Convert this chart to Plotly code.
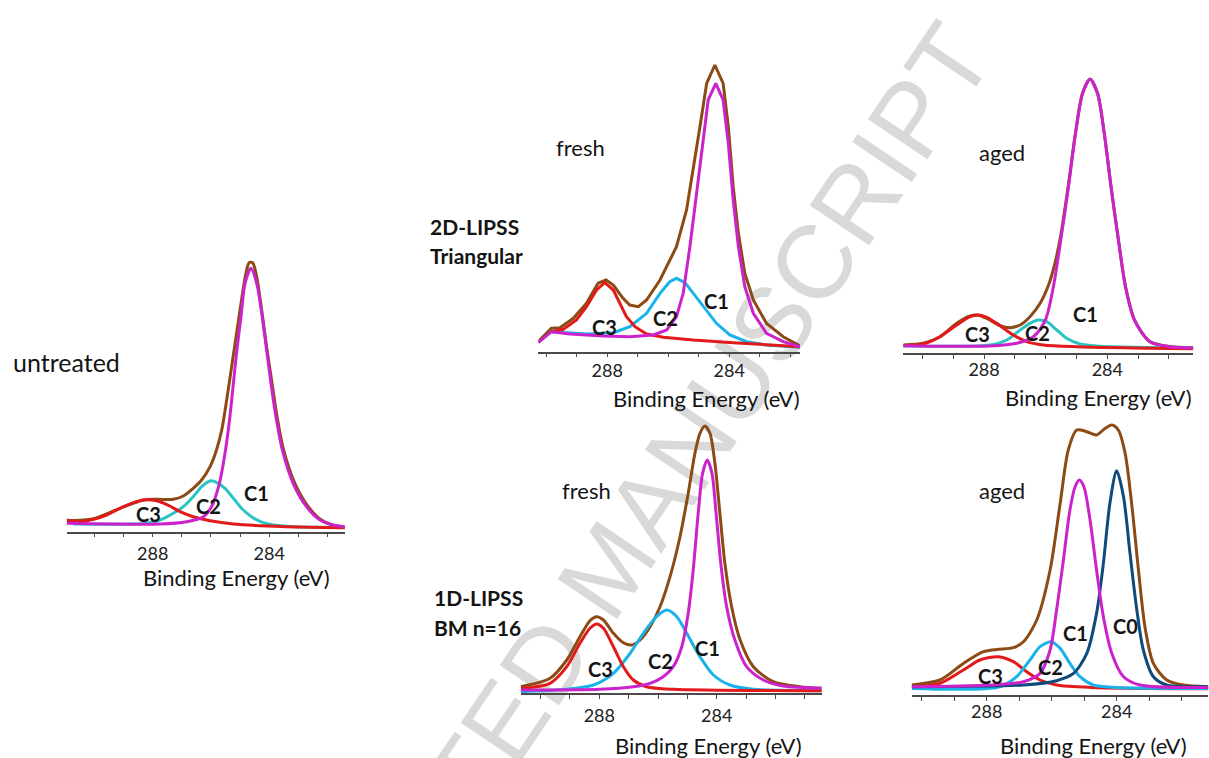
import plotly.graph_objects as go

W, H = 1209, 758

# ---------------- data: binding energy (eV) and intensity (arb. units) ----------------
TICK_VALS = [280, 281, 282, 283, 284, 285, 286, 287, 288, 289, 290, 291]
TICK_TEXT = ["", "", "", "", "284", "", "", "", "288", "", "", ""]

# --- untreated ---
UNT_ENV_E = [290.95, 290.03, 289.12, 288.32, 287.86, 287.29, 286.95, 286.61, 286.32, 286.03, 285.81, 285.63,
             285.46, 285.29, 285.12, 284.95, 284.80, 284.69, 284.57, 284.43, 284.26, 284.09, 283.92, 283.75,
             283.52, 283.12, 282.66, 282.21, 281.69, 281.41]
UNT_ENV_I = [11.0, 13.0, 23.4, 31.7, 32.4, 32.4, 35.7, 43.4, 51.7, 65.0, 81.7, 101.7,
             131.7, 165.0, 198.4, 231.7, 258.4, 269.0, 269.0, 255.0, 221.7, 185.0, 151.7, 118.4,
             83.4, 48.4, 25.0, 11.7, 5.7, 4.4]
UNT_C1_E = [290.95, 287.75, 286.83, 286.26, 285.98, 285.71, 285.50, 285.35, 285.23, 285.11, 284.97, 284.83,
            284.63, 284.43, 284.24, 284.09, 283.94, 283.77, 283.55, 283.18, 282.72, 282.26, 281.81, 281.41]
UNT_C1_I = [8.4, 7.7, 10.0, 15.0, 25.0, 48.4, 81.7, 115.0, 148.4, 181.7, 215.0, 248.4,
            263.4, 248.4, 215.0, 181.7, 148.4, 115.0, 81.7, 48.4, 25.0, 11.7, 6.7, 5.0]
UNT_C2_E = [290.72, 288.21, 287.75, 287.29, 286.95, 286.61, 286.32, 286.09, 285.98, 285.81, 285.52, 285.23,
            284.95, 284.61, 284.21, 283.75, 283.18, 281.41]
UNT_C2_I = [7.7, 8.4, 11.7, 18.4, 25.0, 35.0, 45.0, 50.0, 51.0, 49.4, 43.4, 33.4,
            23.4, 15.0, 9.0, 6.4, 5.0, 4.4]
UNT_C3_E = [290.95, 290.49, 290.03, 289.58, 289.12, 288.66, 288.32, 288.03, 287.75, 287.41, 287.06, 286.61,
            286.03, 285.23, 284.09, 282.61, 281.41]
UNT_C3_I = [11.7, 10.0, 12.4, 16.7, 23.4, 29.0, 31.7, 31.7, 30.0, 25.7, 20.0, 15.0,
            11.0, 7.7, 5.7, 4.4, 4.0]

# --- 2D-LIPSS triangular, fresh ---
TF_ENV_E = [290.26, 289.83, 289.55, 289.11, 288.68, 288.30, 288.04, 287.80, 287.48, 287.26, 286.98, 286.71,
            286.27, 285.73, 285.40, 285.18, 284.96, 284.74, 284.47, 284.20, 284.03, 283.87, 283.70, 283.49,
            283.21, 282.78, 282.23, 281.68]
TF_ENV_I = [10.0, 23.4, 24.0, 33.4, 48.4, 68.4, 71.7, 66.7, 53.4, 46.7, 45.0, 51.7,
            71.7, 105.0, 141.7, 181.7, 225.0, 268.4, 286.7, 268.4, 225.0, 165.0, 118.4, 78.4,
            51.7, 28.4, 15.0, 5.7]
TF_C1_E = [290.26, 289.83, 289.22, 288.13, 287.26, 286.49, 286.05, 285.73, 285.51, 285.29, 285.07, 284.85,
           284.69, 284.44, 284.20, 284.03, 283.87, 283.70, 283.49, 283.21, 282.78, 282.23, 281.68]
TF_C1_I = [9.0, 20.0, 17.7, 15.7, 15.0, 16.7, 21.7, 35.0, 58.4, 105.0, 158.4, 215.0,
           251.7, 268.4, 251.7, 208.4, 151.7, 105.0, 65.0, 38.4, 18.4, 10.0, 5.0]
TF_C2_E = [289.83, 288.68, 287.80, 287.26, 286.71, 286.27, 285.95, 285.73, 285.45, 285.18, 284.85, 284.42,
           283.98, 283.43, 282.78, 281.68]
TF_C2_I = [20.0, 17.7, 19.0, 25.0, 38.4, 58.4, 70.0, 73.4, 69.0, 58.4, 45.0, 28.4,
           16.7, 10.0, 6.7, 4.4]
TF_C3_E = [289.83, 289.44, 289.01, 288.68, 288.35, 288.08, 287.80, 287.58, 287.37, 287.09, 286.71, 286.16,
           285.18, 283.87, 281.68]
TF_C3_I = [20.0, 22.4, 31.7, 45.0, 61.7, 69.0, 61.7, 48.4, 35.0, 25.0, 17.7, 14.4,
           11.7, 9.0, 5.0]

# --- 2D-LIPSS triangular, aged ---
TA_ENV_E = [290.62, 289.97, 289.43, 288.89, 288.45, 288.22, 287.91, 287.48, 287.16, 286.83, 286.51, 286.18,
            285.91, 285.70, 285.51, 285.26, 285.03, 284.80, 284.56, 284.32, 284.10, 283.88, 283.64, 283.41,
            283.12, 282.62, 281.97, 281.21]
TA_ENV_I = [8.3, 10.0, 16.6, 30.0, 37.3, 38.3, 35.0, 27.6, 25.6, 28.3, 36.6, 50.0,
            68.0, 90.0, 118.0, 169.0, 221.0, 260.5, 274.2, 260.2, 220.2, 166.8, 113.5, 66.8,
            33.5, 11.8, 6.8, 5.5]
TA_C1_E = [290.62, 287.81, 286.94, 286.40, 286.01, 285.75, 285.51, 285.26, 285.03, 284.80, 284.56, 284.32,
           284.10, 283.88, 283.64, 283.41, 283.12, 282.62, 281.97, 281.21]
TA_C1_I = [7.6, 7.3, 10.0, 16.6, 33.3, 66.6, 113.3, 166.6, 220.0, 260.0, 274.0, 260.0,
           220.0, 166.6, 113.3, 66.6, 33.3, 11.6, 6.6, 5.3]
TA_C2_E = [290.62, 287.81, 287.26, 286.83, 286.51, 286.24, 285.97, 285.64, 285.32, 284.89, 284.35, 281.21]
TA_C2_I = [7.6, 8.3, 13.3, 23.3, 30.0, 33.3, 31.6, 23.3, 15.0, 9.3, 7.3, 5.3]
TA_C3_E = [290.62, 289.97, 289.43, 288.89, 288.45, 288.22, 287.91, 287.48, 287.05, 286.62, 286.08, 284.99, 281.21]
TA_C3_I = [7.6, 9.3, 16.6, 28.3, 36.6, 38.3, 36.0, 27.6, 18.3, 11.6, 8.3, 6.6, 4.6]

# --- 1D-LIPSS BM n=16, fresh ---
LF_ENV_E = [290.68, 289.68, 289.11, 288.66, 288.32, 288.09, 287.86, 287.52, 287.18, 286.90, 286.61, 286.27,
            285.93, 285.59, 285.25, 284.97, 284.74, 284.57, 284.40, 284.23, 284.06, 283.89, 283.72, 283.49,
            283.20, 282.75, 282.07, 281.16, 280.42]
LF_ENV_I = [6.6, 15.0, 33.3, 56.6, 72.6, 76.6, 73.3, 60.0, 50.6, 48.3, 53.3, 66.6,
            86.6, 116.6, 156.6, 200.0, 240.0, 260.0, 267.3, 260.0, 230.0, 180.0, 130.0, 86.6,
            53.3, 26.6, 11.6, 6.6, 5.0]
LF_C1_E = [290.68, 287.98, 286.84, 286.27, 285.82, 285.48, 285.19, 284.97, 284.80, 284.63, 284.48, 284.32,
           284.16, 284.02, 283.86, 283.66, 283.38, 282.98, 282.41, 281.73, 280.42]
LF_C1_I = [3.3, 4.0, 6.6, 10.0, 16.6, 26.6, 46.6, 80.0, 123.3, 180.0, 220.0, 233.3,
           220.0, 180.0, 130.0, 86.6, 53.3, 26.6, 13.3, 7.3, 5.0]
LF_C2_E = [290.68, 289.11, 288.20, 287.52, 286.95, 286.50, 286.05, 285.70, 285.36, 285.02, 284.57, 284.11,
           283.55, 282.75, 280.42]
LF_C2_I = [1.6, 4.0, 8.3, 20.0, 40.0, 60.0, 76.6, 83.3, 76.6, 60.0, 36.6, 18.3,
           8.3, 4.0, 2.6]
LF_C3_E = [290.68, 289.68, 289.11, 288.66, 288.32, 288.09, 287.86, 287.52, 287.18, 286.84, 286.39, 285.48, 280.42]
LF_C3_I = [5.0, 10.0, 26.6, 50.0, 65.0, 69.3, 65.0, 46.6, 26.6, 13.3, 6.6, 4.0, 2.6]

# --- 1D-LIPSS BM n=16, aged ---
LA_ENV_E = [290.31, 289.44, 288.72, 288.10, 287.69, 287.18, 286.87, 286.46, 286.05, 285.74, 285.49, 285.23,
            284.92, 284.62, 284.36, 284.15, 283.95, 283.74, 283.54, 283.33, 283.13, 282.87, 282.46, 281.95, 281.18]
LA_ENV_I = [10.0, 15.0, 31.6, 43.3, 45.6, 47.3, 53.3, 75.0, 125.0, 191.6, 245.0, 265.0,
            263.3, 260.0, 266.6, 270.0, 265.0, 241.6, 191.6, 125.0, 68.3, 31.6, 15.0, 10.0, 8.3]
LA_C0_E = [290.31, 286.87, 285.85, 285.33, 284.92, 284.62, 284.41, 284.21, 284.00, 283.79, 283.59, 283.38,
           283.18, 282.87, 282.46, 281.18]
LA_C0_I = [8.3, 10.0, 14.3, 21.6, 41.6, 81.6, 131.6, 191.6, 224.3, 198.3, 141.6, 85.0,
           45.0, 18.3, 10.0, 8.3]
LA_C1_E = [290.31, 287.90, 286.87, 286.36, 286.05, 285.85, 285.64, 285.44, 285.28, 285.15, 285.01, 284.82,
           284.62, 284.41, 284.15, 283.79, 283.28, 281.18]
LA_C1_I = [8.3, 10.0, 13.3, 21.6, 45.0, 85.0, 135.0, 185.0, 208.3, 215.0, 208.3, 175.0,
           125.0, 78.3, 41.6, 18.3, 10.0, 7.6]
LA_C2_E = [290.31, 287.59, 287.08, 286.67, 286.36, 286.02, 285.74, 285.44, 285.13, 284.72, 284.00, 281.18]
LA_C2_I = [6.6, 8.3, 18.3, 35.0, 48.3, 53.3, 46.6, 31.6, 18.3, 10.0, 7.6, 6.6]
LA_C3_E = [290.31, 289.44, 288.72, 288.21, 287.64, 287.18, 286.77, 286.36, 285.85, 284.82, 281.18]
LA_C3_I = [8.3, 11.6, 25.0, 35.0, 38.3, 33.3, 23.3, 15.0, 10.0, 7.6, 6.3]

# ---------------- styling ----------------
BROWN = "#8c4a14"
MAGENTA = "#cc22cc"
SKY = "#1ab2ea"
TURQ = "#2bc4c4"
RED = "#e31a1a"
NAVY = "#0e4a7b"
FONT = "Lato"

# panel geometry in pixels: x-left, x-right, axis y, top y, x-range (reversed), tick-label standoff
PANELS = [
    dict(x0=66.7, x1=345.0, yb=531.7, yt=250.0, rng=[290.95, 281.40], so=1),
    dict(x0=538.3, x1=800.0, yb=351.7, yt=60.0, rng=[290.26, 281.68], so=-2),
    dict(x0=903.3, x1=1193.3, yb=353.3, yt=60.0, rng=[290.62, 281.21], so=-5),
    dict(x0=520.7, x1=821.7, yb=693.3, yt=420.0, rng=[290.68, 280.42], so=1),
    dict(x0=911.7, x1=1208.3, yb=695.0, yt=420.0, rng=[290.31, 281.18], so=-4),
]

CURVES = [
    [(UNT_ENV_E, UNT_ENV_I, BROWN), (UNT_C2_E, UNT_C2_I, TURQ), (UNT_C3_E, UNT_C3_I, RED),
     (UNT_C1_E, UNT_C1_I, MAGENTA)],
    [(TF_ENV_E, TF_ENV_I, BROWN), (TF_C2_E, TF_C2_I, SKY), (TF_C3_E, TF_C3_I, RED),
     (TF_C1_E, TF_C1_I, MAGENTA)],
    [(TA_ENV_E, TA_ENV_I, BROWN), (TA_C2_E, TA_C2_I, TURQ), (TA_C3_E, TA_C3_I, RED),
     (TA_C1_E, TA_C1_I, MAGENTA)],
    [(LF_ENV_E, LF_ENV_I, BROWN), (LF_C2_E, LF_C2_I, SKY), (LF_C3_E, LF_C3_I, RED),
     (LF_C1_E, LF_C1_I, MAGENTA)],
    [(LA_ENV_E, LA_ENV_I, BROWN), (LA_C3_E, LA_C3_I, RED), (LA_C2_E, LA_C2_I, SKY),
     (LA_C0_E, LA_C0_I, NAVY), (LA_C1_E, LA_C1_I, MAGENTA)],
]
SHAPES = ["spline", "linear", "spline", "spline", "spline"]

fig = go.Figure()

for k, (panel, curves) in enumerate(zip(PANELS, CURVES), start=1):
    xa = "x" if k == 1 else f"x{k}"
    ya = "y" if k == 1 else f"y{k}"
    for e, i, col in curves:
        fig.add_trace(go.Scatter(x=e, y=i, mode="lines", xaxis=xa, yaxis=ya,
                                 line=dict(color=col, width=3, shape=SHAPES[k - 1], smoothing=0.8),
                                 showlegend=False, hoverinfo="skip"))
    xkey = "xaxis" if k == 1 else f"xaxis{k}"
    ykey = "yaxis" if k == 1 else f"yaxis{k}"
    fig.layout[xkey] = dict(
        domain=[panel["x0"] / W, panel["x1"] / W], anchor=ya, range=panel["rng"],
        showline=True, linecolor="#4a4a4a", linewidth=1.5, mirror=False,
        ticks="outside", ticklen=4, tickwidth=1, tickcolor="#4a4a4a",
        tickmode="array", tickvals=TICK_VALS, ticktext=TICK_TEXT,
        tickfont=dict(family=FONT, size=18, color="#222222"), ticklabelstandoff=panel["so"],
        showgrid=False, zeroline=False, fixedrange=True,
    )
    fig.layout[ykey] = dict(
        domain=[1 - panel["yb"] / H, 1 - panel["yt"] / H], anchor=xa,
        range=[0, panel["yb"] - panel["yt"]], visible=False, fixedrange=True,
    )


def ann(text, px, py, size, bold=False, xanchor="center"):
    fig.add_annotation(x=px / W, y=1 - py / H, xref="paper", yref="paper",
                       text=f"<b>{text}</b>" if bold else text, showarrow=False,
                       xanchor=xanchor, yanchor="middle",
                       font=dict(family=FONT, size=size, color="#141414"))


# sample / condition labels
ann("untreated", 66, 362, 25)
ann("fresh", 580, 147.5, 22)
ann("aged", 1002, 152.5, 22)
ann("fresh", 586, 490.8, 22)
ann("aged", 1002, 490.8, 22)
ann("2D-LIPSS", 428, 226.7, 21, bold=True, xanchor="left")
ann("Triangular", 428, 255.5, 21, bold=True, xanchor="left")
ann("1D-LIPSS", 432, 597, 21, bold=True, xanchor="left")
ann("BM n=16", 432, 627, 21, bold=True, xanchor="left")

# axis titles
for px, py in [(236.3, 577), (706, 398), (1098, 397), (708, 745), (1093, 745)]:
    ann("Binding Energy (eV)", px, py, 22)

# component labels
PEAK_LABELS = [
    ("C3", 148, 513.7), ("C2", 208.3, 505.8), ("C1", 256.2, 492.5),
    ("C3", 605, 326.7), ("C2", 665, 318.3), ("C1", 716.7, 300.8),
    ("C3", 977, 334), ("C2", 1037.7, 332.5), ("C1", 1085, 313.7),
    ("C3", 600, 669), ("C2", 660, 660.8), ("C1", 707, 647.5),
    ("C3", 990, 675.8), ("C2", 1050, 667), ("C1", 1075, 632.5), ("C0", 1125, 625.8),
]
for t, px, py in PEAK_LABELS:
    ann(t, px, py, 20, bold=True)

# watermark, drawn beneath the spectra
cx, cy = 600 / W, 1 - 562 / H
fig.add_shape(type="rect", xref="paper", yref="paper", x0=cx - 0.001, x1=cx + 0.001,
              y0=cy - 0.001, y1=cy + 0.001, layer="below",
              line=dict(width=0, color="rgba(0,0,0,0)"), fillcolor="rgba(0,0,0,0)",
              label=dict(text="ACCEPTED MANUSCRIPT", textangle=-56, textposition="middle center",
                         font=dict(family="Liberation Sans", size=104, color="#d9d9d9")))

fig.update_layout(width=W, height=H, margin=dict(l=0, r=0, t=0, b=0),
                  paper_bgcolor="white", plot_bgcolor="rgba(0,0,0,0)",
                  template="none", showlegend=False)

fig.write_html("out.html")
